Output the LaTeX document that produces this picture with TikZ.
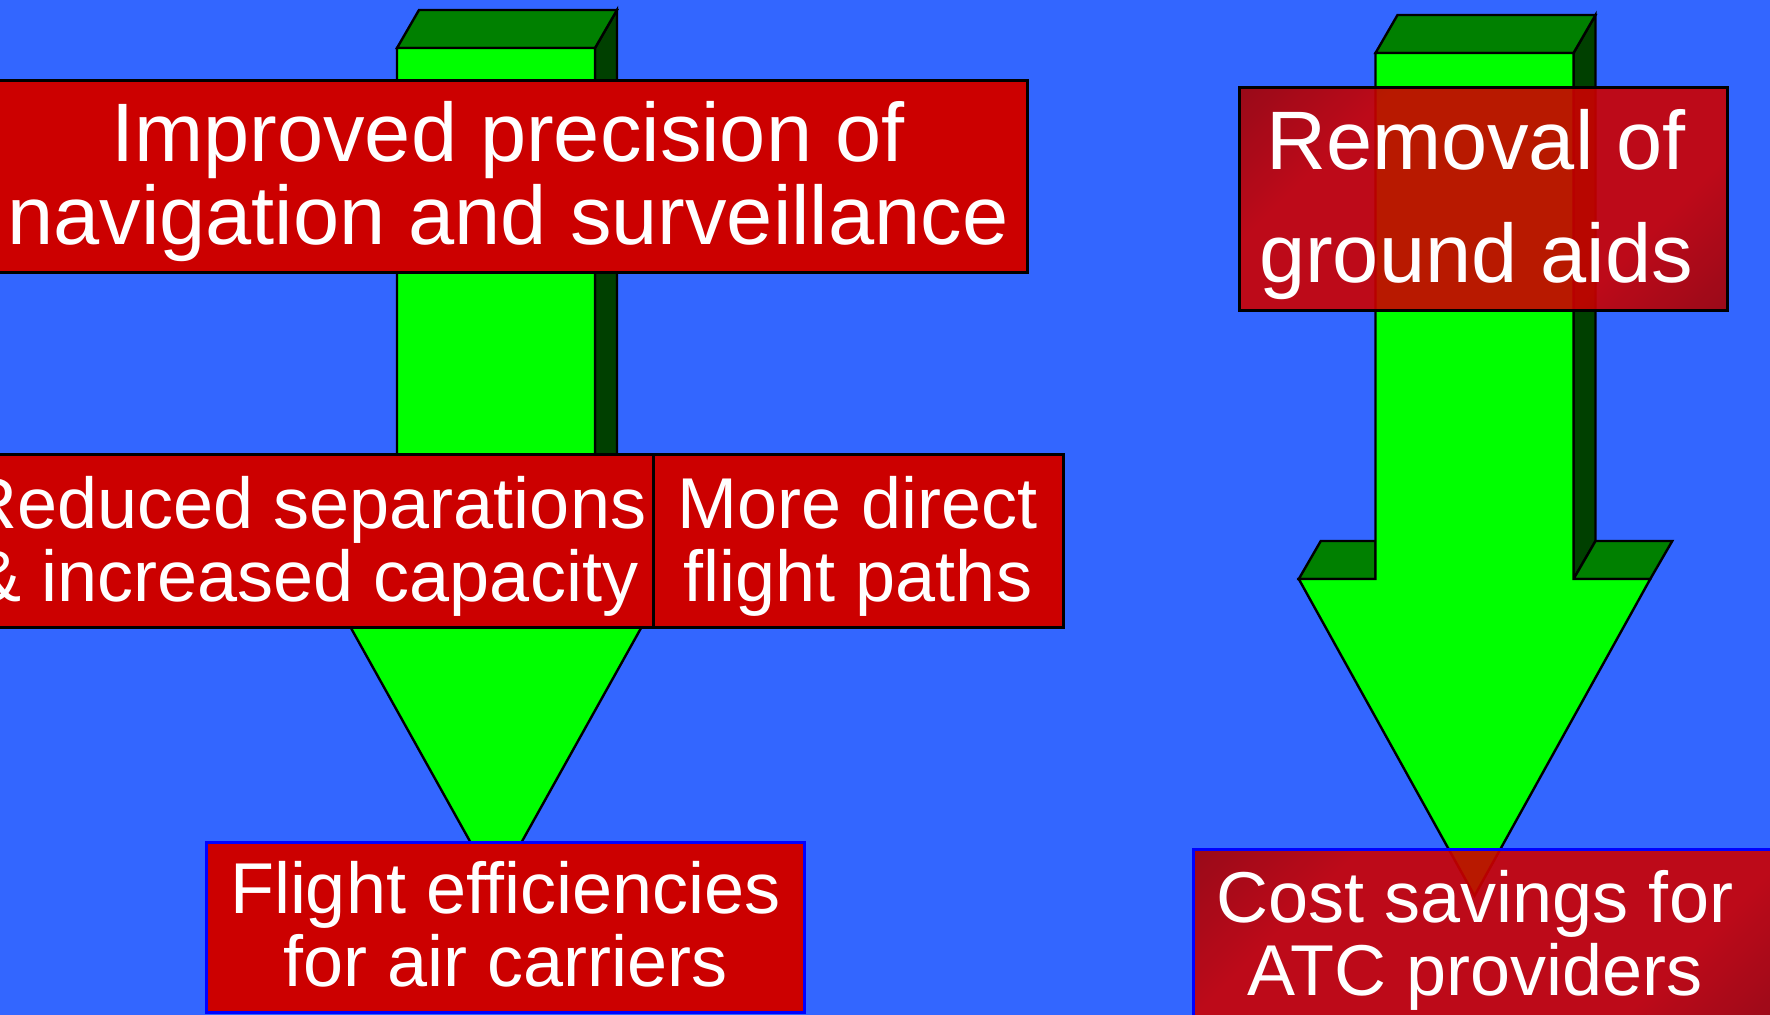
\documentclass[tikz,border=0pt]{standalone}
\usepackage{fontspec}
\setmainfont{Liberation Sans}
\usepackage{tikz}
\usetikzlibrary{positioning}

\definecolor{bgblue}{HTML}{3366FF}
\definecolor{frontgreen}{HTML}{00FF00}
\definecolor{topgreen}{HTML}{008000}
\definecolor{sidegreen}{HTML}{004000}
\definecolor{boxred}{HTML}{CC0000}
\definecolor{boxdark}{HTML}{800000}
\definecolor{edgeblue}{HTML}{0000FF}
\pgfdeclarehorizontalshading{redglow}{100bp}{color(0bp)=(boxdark); color(30bp)=(boxred);
  color(70bp)=(boxred); color(100bp)=(boxdark)}

\begin{document}
\begin{tikzpicture}[x=0.5pt,y=-0.5pt,
  face/.style={draw=black,line width=1.2pt},
  redbox/.style={draw=black,line width=1.5pt,fill=boxred,inner sep=0pt},
  shadedbox/.style={draw=black,line width=1.5pt,inner sep=0pt,
    shading=redglow,shading angle=-45,fill opacity=0.9},
  boxtext/.style={text=white,align=center,inner sep=0pt}]
\useasboundingbox (0,0) rectangle (1770,1015);
\fill [bgblue] (0,0) rectangle (1770,1015);
% left arrow
\draw [face,fill=sidegreen] (595,48) -- (617,10) -- (617,535) -- (595,573) -- cycle;
\draw [face,fill=topgreen] (397,48) -- (419,10) -- (617,10) -- (595,48) -- cycle;
\draw [face,fill=topgreen] (320.25,573) -- (342.25,535) -- (397,535) -- (397,573) -- cycle;
\draw [face,fill=topgreen] (595,573) -- (617,535) -- (693.75,535) -- (671.75,573) -- cycle;
\draw [face,fill=frontgreen] (397,48) -- (595,48) -- (595,573) -- (671.75,573) -- (496,888)
  -- (320.25,573) -- (397,573) -- cycle;
% right arrow
\draw [face,fill=sidegreen] (1573.5,53) -- (1595.5,15) -- (1595.5,541) -- (1573.5,579) -- cycle;
\draw [face,fill=topgreen] (1375.5,53) -- (1397.5,15) -- (1595.5,15) -- (1573.5,53) -- cycle;
\draw [face,fill=topgreen] (1298.75,579) -- (1320.75,541) -- (1375.5,541) -- (1375.5,579) -- cycle;
\draw [face,fill=topgreen] (1573.5,579) -- (1595.5,541) -- (1672.25,541) -- (1650.25,579) -- cycle;
\draw [face,fill=frontgreen] (1375.5,53) -- (1573.5,53) -- (1573.5,579) -- (1650.25,579)
  -- (1474.5,895.7) -- (1298.75,579) -- (1375.5,579) -- cycle;
% boxes
\node [redbox,minimum width=519pt,minimum height=96pt] (precision) at (508,177) {};
\node [redbox,minimum width=347pt,minimum height=86pt] (separation) at (306,541) {};
\node [redbox,minimum width=205pt,minimum height=86pt] (paths) at (858,541) {};
\node [redbox,draw=edgeblue,minimum width=299pt,minimum height=85.25pt] (efficiency) at (505.5,927.25) {};
\node [shadedbox,minimum width=244pt,minimum height=111.5pt] (removal) at (1483,199.5) {};
\node [shadedbox,draw=edgeblue,minimum width=295pt,minimum height=88pt] (savings) at (1488,937) {};
% texts
\node [boxtext,font=\fontsize{41.5pt}{41.5pt}\selectfont] (precision-text) at (508,181.7)
  {Improved precision of\\navigation and surveillance};
\node [boxtext,font=\fontsize{36pt}{36.5pt}\selectfont] (separation-text) at (306,546)
  {Reduced separations\\\& increased capacity};
\node [boxtext,font=\fontsize{36pt}{36.5pt}\selectfont] (paths-text) at (858,546)
  {More direct\\flight paths};
\node [boxtext,font=\fontsize{36pt}{36.5pt}\selectfont] (efficiency-text) at (505.5,924.4)
  {Flight efficiencies\\for air carriers};
\node [boxtext,font=\fontsize{41.5pt}{56.5pt}\selectfont] (removal-text) at (1476,205)
  {Removal of\\ground aids};
\node [boxtext,font=\fontsize{36pt}{36.5pt}\selectfont] (savings-text) at (1475,940)
  {Cost savings for\\ATC providers};
\end{tikzpicture}
\end{document}
